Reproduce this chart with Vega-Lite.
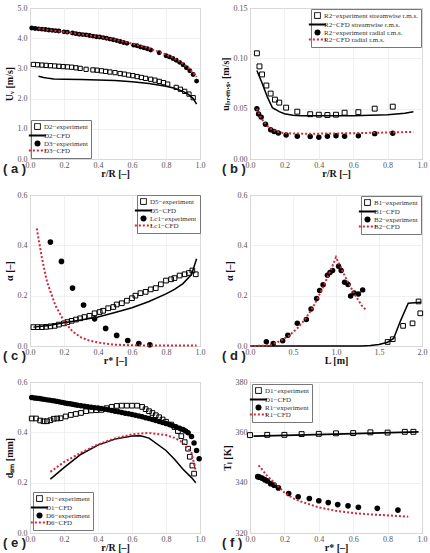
{
  "$schema": "https://vega.github.io/schema/vega-lite/v6.json",
  "background": "white",
  "padding": {"left": 2, "top": 3, "right": 2, "bottom": 0},
  "bounds": "flush",
  "columns": 2,
  "spacing": {"row": 36, "column": 50},
  "config": {
    "font": "Liberation Serif",
    "view": {"stroke": "#8a8a8a", "strokeWidth": 1},
    "axis": {
      "labelFont": "Liberation Serif", "labelFontSize": 8, "labelColor": "#555",
      "titleFont": "Liberation Serif", "titleFontSize": 10, "titleFontWeight": "bold", "titleColor": "#111",
      "domain": false, "ticks": false, "gridColor": "#ececec", "gridWidth": 0.8,
      "labelPadding": 3, "labelFlush": false, "labelOverlap": false
    },
    "axisX": {"labelPadding": 2, "titlePadding": -1},
    "axisY": {"titlePadding": 3},
    "legend": {
      "title": null, "labelFont": "Liberation Serif", "labelFontSize": 7, "labelColor": "#333",
      "strokeColor": "#777", "fillColor": "white", "padding": 3, "rowPadding": -1,
      "symbolSize": 300, "labelLimit": 300, "labelOffset": 3
    },
    "title": {"font": "Liberation Sans", "fontSize": 13, "fontWeight": "bold", "color": "#222", "orient": "bottom", "anchor": "start", "frame": "group", "offset": 0},
    "line": {"strokeWidth": 1.5},
    "point": {"size": 18, "strokeWidth": 1, "opacity": 1},
    "circle": {"size": 24, "opacity": 1}
  },
  "resolve": {"scale": {"color": "independent"}, "legend": {"color": "independent"}},
  "datasets": {
    "a": [
      {"s":"D2−experiment","x":0.02,"y":3.13},{"s":"D2−experiment","x":0.045,"y":3.12},{"s":"D2−experiment","x":0.07,"y":3.11},{"s":"D2−experiment","x":0.095,"y":3.10},{"s":"D2−experiment","x":0.12,"y":3.09},{"s":"D2−experiment","x":0.145,"y":3.08},{"s":"D2−experiment","x":0.17,"y":3.07},{"s":"D2−experiment","x":0.195,"y":3.06},{"s":"D2−experiment","x":0.22,"y":3.05},{"s":"D2−experiment","x":0.245,"y":3.04},{"s":"D2−experiment","x":0.27,"y":3.02},{"s":"D2−experiment","x":0.295,"y":3.00},{"s":"D2−experiment","x":0.33,"y":2.97},{"s":"D2−experiment","x":0.37,"y":2.95},{"s":"D2−experiment","x":0.395,"y":2.94},{"s":"D2−experiment","x":0.42,"y":2.92},{"s":"D2−experiment","x":0.445,"y":2.90},{"s":"D2−experiment","x":0.47,"y":2.88},{"s":"D2−experiment","x":0.5,"y":2.86},{"s":"D2−experiment","x":0.53,"y":2.83},{"s":"D2−experiment","x":0.555,"y":2.81},{"s":"D2−experiment","x":0.58,"y":2.78},{"s":"D2−experiment","x":0.605,"y":2.76},{"s":"D2−experiment","x":0.63,"y":2.73},{"s":"D2−experiment","x":0.655,"y":2.70},{"s":"D2−experiment","x":0.68,"y":2.67},{"s":"D2−experiment","x":0.71,"y":2.64},{"s":"D2−experiment","x":0.735,"y":2.61},{"s":"D2−experiment","x":0.76,"y":2.57},{"s":"D2−experiment","x":0.785,"y":2.53},{"s":"D2−experiment","x":0.81,"y":2.48},{"s":"D2−experiment","x":0.86,"y":2.37},{"s":"D2−experiment","x":0.885,"y":2.31},{"s":"D2−experiment","x":0.91,"y":2.24},{"s":"D2−experiment","x":0.935,"y":2.15},{"s":"D2−experiment","x":0.96,"y":2.03},
      {"s":"D2−CFD","x":0.05,"y":2.74},{"s":"D2−CFD","x":0.08,"y":2.70},{"s":"D2−CFD","x":0.11,"y":2.67},{"s":"D2−CFD","x":0.14,"y":2.65},{"s":"D2−CFD","x":0.2,"y":2.64},{"s":"D2−CFD","x":0.3,"y":2.63},{"s":"D2−CFD","x":0.4,"y":2.62},{"s":"D2−CFD","x":0.5,"y":2.60},{"s":"D2−CFD","x":0.6,"y":2.56},{"s":"D2−CFD","x":0.7,"y":2.50},{"s":"D2−CFD","x":0.8,"y":2.41},{"s":"D2−CFD","x":0.85,"y":2.34},{"s":"D2−CFD","x":0.9,"y":2.24},{"s":"D2−CFD","x":0.93,"y":2.15},{"s":"D2−CFD","x":0.96,"y":2.0},{"s":"D2−CFD","x":0.98,"y":1.82},
      {"s":"D3−experiment","x":0.01,"y":4.34},{"s":"D3−experiment","x":0.03,"y":4.32},{"s":"D3−experiment","x":0.05,"y":4.31},{"s":"D3−experiment","x":0.07,"y":4.30},{"s":"D3−experiment","x":0.09,"y":4.29},{"s":"D3−experiment","x":0.11,"y":4.27},{"s":"D3−experiment","x":0.13,"y":4.26},{"s":"D3−experiment","x":0.15,"y":4.25},{"s":"D3−experiment","x":0.17,"y":4.24},{"s":"D3−experiment","x":0.2,"y":4.21},{"s":"D3−experiment","x":0.22,"y":4.20},{"s":"D3−experiment","x":0.25,"y":4.17},{"s":"D3−experiment","x":0.27,"y":4.15},{"s":"D3−experiment","x":0.29,"y":4.13},{"s":"D3−experiment","x":0.31,"y":4.12},{"s":"D3−experiment","x":0.33,"y":4.11},{"s":"D3−experiment","x":0.35,"y":4.09},{"s":"D3−experiment","x":0.37,"y":4.07},{"s":"D3−experiment","x":0.39,"y":4.05},{"s":"D3−experiment","x":0.41,"y":4.04},{"s":"D3−experiment","x":0.43,"y":4.02},{"s":"D3−experiment","x":0.45,"y":4.00},{"s":"D3−experiment","x":0.47,"y":3.97},{"s":"D3−experiment","x":0.49,"y":3.95},{"s":"D3−experiment","x":0.51,"y":3.92},{"s":"D3−experiment","x":0.53,"y":3.89},{"s":"D3−experiment","x":0.55,"y":3.86},{"s":"D3−experiment","x":0.57,"y":3.83},{"s":"D3−experiment","x":0.61,"y":3.77},{"s":"D3−experiment","x":0.63,"y":3.75},{"s":"D3−experiment","x":0.65,"y":3.71},{"s":"D3−experiment","x":0.67,"y":3.68},{"s":"D3−experiment","x":0.69,"y":3.65},{"s":"D3−experiment","x":0.71,"y":3.61},{"s":"D3−experiment","x":0.76,"y":3.52},{"s":"D3−experiment","x":0.8,"y":3.42},{"s":"D3−experiment","x":0.82,"y":3.38},{"s":"D3−experiment","x":0.84,"y":3.33},{"s":"D3−experiment","x":0.86,"y":3.27},{"s":"D3−experiment","x":0.88,"y":3.20},{"s":"D3−experiment","x":0.9,"y":3.12},{"s":"D3−experiment","x":0.92,"y":3.02},{"s":"D3−experiment","x":0.94,"y":2.92},{"s":"D3−experiment","x":0.96,"y":2.80},{"s":"D3−experiment","x":0.98,"y":2.58},
      {"s":"D3−CFD","x":0.05,"y":4.32},{"s":"D3−CFD","x":0.1,"y":4.28},{"s":"D3−CFD","x":0.2,"y":4.21},{"s":"D3−CFD","x":0.3,"y":4.13},{"s":"D3−CFD","x":0.4,"y":4.05},{"s":"D3−CFD","x":0.5,"y":3.95},{"s":"D3−CFD","x":0.6,"y":3.82},{"s":"D3−CFD","x":0.7,"y":3.66},{"s":"D3−CFD","x":0.8,"y":3.46},{"s":"D3−CFD","x":0.85,"y":3.33},{"s":"D3−CFD","x":0.9,"y":3.16},{"s":"D3−CFD","x":0.93,"y":3.03},{"s":"D3−CFD","x":0.96,"y":2.85},{"s":"D3−CFD","x":0.98,"y":2.72}
    ],
    "b": [
      {"s":"R2−experiment streamwise r.m.s.","x":0.04,"y":0.105},{"s":"R2−experiment streamwise r.m.s.","x":0.055,"y":0.092},{"s":"R2−experiment streamwise r.m.s.","x":0.07,"y":0.084},{"s":"R2−experiment streamwise r.m.s.","x":0.095,"y":0.073},{"s":"R2−experiment streamwise r.m.s.","x":0.12,"y":0.065},{"s":"R2−experiment streamwise r.m.s.","x":0.145,"y":0.059},{"s":"R2−experiment streamwise r.m.s.","x":0.17,"y":0.056},{"s":"R2−experiment streamwise r.m.s.","x":0.21,"y":0.051},{"s":"R2−experiment streamwise r.m.s.","x":0.275,"y":0.047},{"s":"R2−experiment streamwise r.m.s.","x":0.35,"y":0.0445},{"s":"R2−experiment streamwise r.m.s.","x":0.4,"y":0.044},{"s":"R2−experiment streamwise r.m.s.","x":0.45,"y":0.0437},{"s":"R2−experiment streamwise r.m.s.","x":0.5,"y":0.044},{"s":"R2−experiment streamwise r.m.s.","x":0.55,"y":0.046},{"s":"R2−experiment streamwise r.m.s.","x":0.63,"y":0.0465},{"s":"R2−experiment streamwise r.m.s.","x":0.725,"y":0.05},{"s":"R2−experiment streamwise r.m.s.","x":0.83,"y":0.052},
      {"s":"R2−CFD streamwise r.m.s.","x":0.04,"y":0.088},{"s":"R2−CFD streamwise r.m.s.","x":0.07,"y":0.0755},{"s":"R2−CFD streamwise r.m.s.","x":0.1,"y":0.062},{"s":"R2−CFD streamwise r.m.s.","x":0.13,"y":0.051},{"s":"R2−CFD streamwise r.m.s.","x":0.17,"y":0.047},{"s":"R2−CFD streamwise r.m.s.","x":0.2,"y":0.045},{"s":"R2−CFD streamwise r.m.s.","x":0.25,"y":0.0435},{"s":"R2−CFD streamwise r.m.s.","x":0.3,"y":0.043},{"s":"R2−CFD streamwise r.m.s.","x":0.4,"y":0.043},{"s":"R2−CFD streamwise r.m.s.","x":0.5,"y":0.043},{"s":"R2−CFD streamwise r.m.s.","x":0.6,"y":0.043},{"s":"R2−CFD streamwise r.m.s.","x":0.7,"y":0.0435},{"s":"R2−CFD streamwise r.m.s.","x":0.8,"y":0.044},{"s":"R2−CFD streamwise r.m.s.","x":0.9,"y":0.0455},{"s":"R2−CFD streamwise r.m.s.","x":0.95,"y":0.047},
      {"s":"R2−experiment radial r.m.s.","x":0.04,"y":0.05},{"s":"R2−experiment radial r.m.s.","x":0.05,"y":0.0448},{"s":"R2−experiment radial r.m.s.","x":0.065,"y":0.0416},{"s":"R2−experiment radial r.m.s.","x":0.09,"y":0.0346},{"s":"R2−experiment radial r.m.s.","x":0.12,"y":0.029},{"s":"R2−experiment radial r.m.s.","x":0.14,"y":0.0273},{"s":"R2−experiment radial r.m.s.","x":0.165,"y":0.0259},{"s":"R2−experiment radial r.m.s.","x":0.21,"y":0.0238},{"s":"R2−experiment radial r.m.s.","x":0.275,"y":0.0227},{"s":"R2−experiment radial r.m.s.","x":0.35,"y":0.0224},{"s":"R2−experiment radial r.m.s.","x":0.4,"y":0.0217},{"s":"R2−experiment radial r.m.s.","x":0.45,"y":0.0227},{"s":"R2−experiment radial r.m.s.","x":0.5,"y":0.0231},{"s":"R2−experiment radial r.m.s.","x":0.55,"y":0.0227},{"s":"R2−experiment radial r.m.s.","x":0.63,"y":0.0231},{"s":"R2−experiment radial r.m.s.","x":0.725,"y":0.0252},{"s":"R2−experiment radial r.m.s.","x":0.83,"y":0.0256},
      {"s":"R2−CFD radial r.m.s.","x":0.04,"y":0.05},{"s":"R2−CFD radial r.m.s.","x":0.06,"y":0.042},{"s":"R2−CFD radial r.m.s.","x":0.08,"y":0.037},{"s":"R2−CFD radial r.m.s.","x":0.1,"y":0.033},{"s":"R2−CFD radial r.m.s.","x":0.13,"y":0.029},{"s":"R2−CFD radial r.m.s.","x":0.16,"y":0.027},{"s":"R2−CFD radial r.m.s.","x":0.2,"y":0.0256},{"s":"R2−CFD radial r.m.s.","x":0.3,"y":0.0252},{"s":"R2−CFD radial r.m.s.","x":0.4,"y":0.0252},{"s":"R2−CFD radial r.m.s.","x":0.5,"y":0.0254},{"s":"R2−CFD radial r.m.s.","x":0.6,"y":0.0256},{"s":"R2−CFD radial r.m.s.","x":0.7,"y":0.026},{"s":"R2−CFD radial r.m.s.","x":0.8,"y":0.0263},{"s":"R2−CFD radial r.m.s.","x":0.9,"y":0.0267},{"s":"R2−CFD radial r.m.s.","x":0.95,"y":0.027}
    ],
    "c": [
      {"s":"D5−experiment","x":0.02,"y":0.075},{"s":"D5−experiment","x":0.045,"y":0.075},{"s":"D5−experiment","x":0.07,"y":0.075},{"s":"D5−experiment","x":0.095,"y":0.076},{"s":"D5−experiment","x":0.12,"y":0.078},{"s":"D5−experiment","x":0.145,"y":0.08},{"s":"D5−experiment","x":0.17,"y":0.085},{"s":"D5−experiment","x":0.2,"y":0.09},{"s":"D5−experiment","x":0.22,"y":0.095},{"s":"D5−experiment","x":0.245,"y":0.1},{"s":"D5−experiment","x":0.27,"y":0.105},{"s":"D5−experiment","x":0.295,"y":0.11},{"s":"D5−experiment","x":0.32,"y":0.115},{"s":"D5−experiment","x":0.35,"y":0.12},{"s":"D5−experiment","x":0.38,"y":0.13},{"s":"D5−experiment","x":0.41,"y":0.135},{"s":"D5−experiment","x":0.43,"y":0.14},{"s":"D5−experiment","x":0.46,"y":0.15},{"s":"D5−experiment","x":0.49,"y":0.155},{"s":"D5−experiment","x":0.51,"y":0.165},{"s":"D5−experiment","x":0.54,"y":0.17},{"s":"D5−experiment","x":0.57,"y":0.18},{"s":"D5−experiment","x":0.6,"y":0.19},{"s":"D5−experiment","x":0.62,"y":0.2},{"s":"D5−experiment","x":0.65,"y":0.21},{"s":"D5−experiment","x":0.68,"y":0.215},{"s":"D5−experiment","x":0.71,"y":0.225},{"s":"D5−experiment","x":0.74,"y":0.23},{"s":"D5−experiment","x":0.77,"y":0.245},{"s":"D5−experiment","x":0.8,"y":0.26},{"s":"D5−experiment","x":0.83,"y":0.265},{"s":"D5−experiment","x":0.85,"y":0.27},{"s":"D5−experiment","x":0.88,"y":0.28},{"s":"D5−experiment","x":0.91,"y":0.285},{"s":"D5−experiment","x":0.935,"y":0.29},{"s":"D5−experiment","x":0.955,"y":0.3},{"s":"D5−experiment","x":0.975,"y":0.285},
      {"s":"D5−CFD","x":0.02,"y":0.075},{"s":"D5−CFD","x":0.1,"y":0.08},{"s":"D5−CFD","x":0.2,"y":0.092},{"s":"D5−CFD","x":0.3,"y":0.103},{"s":"D5−CFD","x":0.4,"y":0.115},{"s":"D5−CFD","x":0.5,"y":0.133},{"s":"D5−CFD","x":0.6,"y":0.152},{"s":"D5−CFD","x":0.7,"y":0.177},{"s":"D5−CFD","x":0.8,"y":0.207},{"s":"D5−CFD","x":0.85,"y":0.225},{"s":"D5−CFD","x":0.9,"y":0.248},{"s":"D5−CFD","x":0.95,"y":0.284},{"s":"D5−CFD","x":0.98,"y":0.347},
      {"s":"Lc1−experiment","x":0.12,"y":0.413},{"s":"Lc1−experiment","x":0.185,"y":0.336},{"s":"Lc1−experiment","x":0.25,"y":0.23},{"s":"Lc1−experiment","x":0.315,"y":0.163},{"s":"Lc1−experiment","x":0.38,"y":0.108},{"s":"Lc1−experiment","x":0.445,"y":0.07},{"s":"Lc1−experiment","x":0.51,"y":0.042},{"s":"Lc1−experiment","x":0.575,"y":0.022},{"s":"Lc1−experiment","x":0.64,"y":0.01},{"s":"Lc1−experiment","x":0.705,"y":0.005},
      {"s":"Lc1−CFD","x":0.04,"y":0.467},{"s":"Lc1−CFD","x":0.07,"y":0.35},{"s":"Lc1−CFD","x":0.1,"y":0.255},{"s":"Lc1−CFD","x":0.15,"y":0.16},{"s":"Lc1−CFD","x":0.2,"y":0.099},{"s":"Lc1−CFD","x":0.25,"y":0.058},{"s":"Lc1−CFD","x":0.3,"y":0.034},{"s":"Lc1−CFD","x":0.35,"y":0.021},{"s":"Lc1−CFD","x":0.4,"y":0.014},{"s":"Lc1−CFD","x":0.5,"y":0.005},{"s":"Lc1−CFD","x":0.6,"y":0.003},{"s":"Lc1−CFD","x":0.7,"y":0.002},{"s":"Lc1−CFD","x":0.8,"y":0.002},{"s":"Lc1−CFD","x":0.98,"y":0.002}
    ],
    "d": [
      {"s":"B1−experiment","x":1.6,"y":0.016},{"s":"B1−experiment","x":1.66,"y":0.027},{"s":"B1−experiment","x":1.78,"y":0.08},{"s":"B1−experiment","x":1.89,"y":0.09},{"s":"B1−experiment","x":1.96,"y":0.177},{"s":"B1−experiment","x":1.98,"y":0.13},
      {"s":"B1−CFD","x":0,"y":0},{"s":"B1−CFD","x":1.3,"y":0},{"s":"B1−CFD","x":1.4,"y":0.002},{"s":"B1−CFD","x":1.5,"y":0.006},{"s":"B1−CFD","x":1.6,"y":0.015},{"s":"B1−CFD","x":1.67,"y":0.03},{"s":"B1−CFD","x":1.75,"y":0.1},{"s":"B1−CFD","x":1.84,"y":0.17},{"s":"B1−CFD","x":1.99,"y":0.174},
      {"s":"B2−experiment","x":0.19,"y":0.017},{"s":"B2−experiment","x":0.27,"y":0.01},{"s":"B2−experiment","x":0.38,"y":0.021},{"s":"B2−experiment","x":0.44,"y":0.043},{"s":"B2−experiment","x":0.55,"y":0.09},{"s":"B2−experiment","x":0.655,"y":0.105},{"s":"B2−experiment","x":0.71,"y":0.147},{"s":"B2−experiment","x":0.775,"y":0.189},{"s":"B2−experiment","x":0.81,"y":0.221},{"s":"B2−experiment","x":0.85,"y":0.243},{"s":"B2−experiment","x":0.9,"y":0.281},{"s":"B2−experiment","x":0.93,"y":0.292},{"s":"B2−experiment","x":0.96,"y":0.3},{"s":"B2−experiment","x":1.03,"y":0.317},{"s":"B2−experiment","x":1.06,"y":0.3},{"s":"B2−experiment","x":1.1,"y":0.253},{"s":"B2−experiment","x":1.14,"y":0.244},{"s":"B2−experiment","x":1.17,"y":0.199},{"s":"B2−experiment","x":1.21,"y":0.211},{"s":"B2−experiment","x":1.26,"y":0.207},{"s":"B2−experiment","x":1.31,"y":0.223},
      {"s":"B2−CFD","x":0,"y":0},{"s":"B2−CFD","x":0.15,"y":0.001},{"s":"B2−CFD","x":0.25,"y":0.005},{"s":"B2−CFD","x":0.35,"y":0.02},{"s":"B2−CFD","x":0.45,"y":0.04},{"s":"B2−CFD","x":0.55,"y":0.07},{"s":"B2−CFD","x":0.65,"y":0.11},{"s":"B2−CFD","x":0.75,"y":0.165},{"s":"B2−CFD","x":0.85,"y":0.235},{"s":"B2−CFD","x":0.95,"y":0.31},{"s":"B2−CFD","x":1.0,"y":0.353},{"s":"B2−CFD","x":1.1,"y":0.28},{"s":"B2−CFD","x":1.2,"y":0.215},{"s":"B2−CFD","x":1.3,"y":0.16},{"s":"B2−CFD","x":1.35,"y":0.143}
    ],
    "e": [
      {"s":"D1−experiment","x":0.01,"y":0.455},{"s":"D1−experiment","x":0.035,"y":0.455},{"s":"D1−experiment","x":0.06,"y":0.447},{"s":"D1−experiment","x":0.08,"y":0.444},{"s":"D1−experiment","x":0.1,"y":0.444},{"s":"D1−experiment","x":0.12,"y":0.448},{"s":"D1−experiment","x":0.14,"y":0.454},{"s":"D1−experiment","x":0.16,"y":0.455},{"s":"D1−experiment","x":0.18,"y":0.456},{"s":"D1−experiment","x":0.21,"y":0.463},{"s":"D1−experiment","x":0.24,"y":0.469},{"s":"D1−experiment","x":0.27,"y":0.473},{"s":"D1−experiment","x":0.3,"y":0.477},{"s":"D1−experiment","x":0.33,"y":0.484},{"s":"D1−experiment","x":0.36,"y":0.487},{"s":"D1−experiment","x":0.39,"y":0.488},{"s":"D1−experiment","x":0.42,"y":0.489},{"s":"D1−experiment","x":0.45,"y":0.496},{"s":"D1−experiment","x":0.48,"y":0.501},{"s":"D1−experiment","x":0.51,"y":0.505},{"s":"D1−experiment","x":0.54,"y":0.506},{"s":"D1−experiment","x":0.57,"y":0.506},{"s":"D1−experiment","x":0.6,"y":0.506},{"s":"D1−experiment","x":0.63,"y":0.506},{"s":"D1−experiment","x":0.66,"y":0.501},{"s":"D1−experiment","x":0.68,"y":0.492},{"s":"D1−experiment","x":0.7,"y":0.484},{"s":"D1−experiment","x":0.72,"y":0.477},{"s":"D1−experiment","x":0.74,"y":0.468},{"s":"D1−experiment","x":0.76,"y":0.46},{"s":"D1−experiment","x":0.78,"y":0.451},{"s":"D1−experiment","x":0.8,"y":0.442},{"s":"D1−experiment","x":0.83,"y":0.431},{"s":"D1−experiment","x":0.85,"y":0.421},{"s":"D1−experiment","x":0.87,"y":0.405},{"s":"D1−experiment","x":0.89,"y":0.385},{"s":"D1−experiment","x":0.91,"y":0.361},{"s":"D1−experiment","x":0.93,"y":0.335},{"s":"D1−experiment","x":0.94,"y":0.303},{"s":"D1−experiment","x":0.955,"y":0.268},{"s":"D1−experiment","x":0.965,"y":0.236},
      {"s":"D1−CFD","x":0.12,"y":0.214},{"s":"D1−CFD","x":0.2,"y":0.26},{"s":"D1−CFD","x":0.3,"y":0.313},{"s":"D1−CFD","x":0.4,"y":0.349},{"s":"D1−CFD","x":0.5,"y":0.373},{"s":"D1−CFD","x":0.6,"y":0.385},{"s":"D1−CFD","x":0.65,"y":0.386},{"s":"D1−CFD","x":0.7,"y":0.377},{"s":"D1−CFD","x":0.8,"y":0.328},{"s":"D1−CFD","x":0.85,"y":0.293},{"s":"D1−CFD","x":0.9,"y":0.253},{"s":"D1−CFD","x":0.95,"y":0.22},{"s":"D1−CFD","x":0.975,"y":0.2},
      {"s":"D6−experiment","x":0.01,"y":0.538},{"s":"D6−experiment","x":0.025,"y":0.536},{"s":"D6−experiment","x":0.04,"y":0.535},{"s":"D6−experiment","x":0.055,"y":0.534},{"s":"D6−experiment","x":0.07,"y":0.532},{"s":"D6−experiment","x":0.085,"y":0.531},{"s":"D6−experiment","x":0.1,"y":0.529},{"s":"D6−experiment","x":0.115,"y":0.528},{"s":"D6−experiment","x":0.13,"y":0.526},{"s":"D6−experiment","x":0.145,"y":0.525},{"s":"D6−experiment","x":0.16,"y":0.523},{"s":"D6−experiment","x":0.175,"y":0.521},{"s":"D6−experiment","x":0.19,"y":0.519},{"s":"D6−experiment","x":0.205,"y":0.517},{"s":"D6−experiment","x":0.22,"y":0.515},{"s":"D6−experiment","x":0.235,"y":0.514},{"s":"D6−experiment","x":0.25,"y":0.512},{"s":"D6−experiment","x":0.265,"y":0.51},{"s":"D6−experiment","x":0.28,"y":0.508},{"s":"D6−experiment","x":0.3,"y":0.506},{"s":"D6−experiment","x":0.32,"y":0.504},{"s":"D6−experiment","x":0.34,"y":0.502},{"s":"D6−experiment","x":0.36,"y":0.5},{"s":"D6−experiment","x":0.38,"y":0.498},{"s":"D6−experiment","x":0.4,"y":0.497},{"s":"D6−experiment","x":0.42,"y":0.495},{"s":"D6−experiment","x":0.44,"y":0.492},{"s":"D6−experiment","x":0.46,"y":0.49},{"s":"D6−experiment","x":0.48,"y":0.487},{"s":"D6−experiment","x":0.5,"y":0.484},{"s":"D6−experiment","x":0.52,"y":0.482},{"s":"D6−experiment","x":0.54,"y":0.479},{"s":"D6−experiment","x":0.56,"y":0.476},{"s":"D6−experiment","x":0.58,"y":0.474},{"s":"D6−experiment","x":0.6,"y":0.471},{"s":"D6−experiment","x":0.62,"y":0.468},{"s":"D6−experiment","x":0.64,"y":0.465},{"s":"D6−experiment","x":0.66,"y":0.462},{"s":"D6−experiment","x":0.68,"y":0.458},{"s":"D6−experiment","x":0.7,"y":0.455},{"s":"D6−experiment","x":0.72,"y":0.451},{"s":"D6−experiment","x":0.74,"y":0.447},{"s":"D6−experiment","x":0.76,"y":0.443},{"s":"D6−experiment","x":0.78,"y":0.439},{"s":"D6−experiment","x":0.8,"y":0.435},{"s":"D6−experiment","x":0.82,"y":0.431},{"s":"D6−experiment","x":0.84,"y":0.426},{"s":"D6−experiment","x":0.86,"y":0.421},{"s":"D6−experiment","x":0.88,"y":0.416},{"s":"D6−experiment","x":0.9,"y":0.411},{"s":"D6−experiment","x":0.915,"y":0.405},{"s":"D6−experiment","x":0.93,"y":0.398},{"s":"D6−experiment","x":0.95,"y":0.383},{"s":"D6−experiment","x":0.965,"y":0.358},{"s":"D6−experiment","x":0.98,"y":0.328},{"s":"D6−experiment","x":0.995,"y":0.295},
      {"s":"D6−CFD","x":0.12,"y":0.243},{"s":"D6−CFD","x":0.2,"y":0.282},{"s":"D6−CFD","x":0.3,"y":0.319},{"s":"D6−CFD","x":0.4,"y":0.352},{"s":"D6−CFD","x":0.5,"y":0.376},{"s":"D6−CFD","x":0.6,"y":0.392},{"s":"D6−CFD","x":0.7,"y":0.398},{"s":"D6−CFD","x":0.8,"y":0.389},{"s":"D6−CFD","x":0.85,"y":0.378},{"s":"D6−CFD","x":0.9,"y":0.359},{"s":"D6−CFD","x":0.95,"y":0.319},{"s":"D6−CFD","x":0.975,"y":0.247}
    ],
    "f": [
      {"s":"D1−experiment","x":0.0,"y":358.9},{"s":"D1−experiment","x":0.1,"y":359.0},{"s":"D1−experiment","x":0.2,"y":359.0},{"s":"D1−experiment","x":0.3,"y":359.3},{"s":"D1−experiment","x":0.4,"y":359.4},{"s":"D1−experiment","x":0.5,"y":359.6},{"s":"D1−experiment","x":0.6,"y":359.7},{"s":"D1−experiment","x":0.7,"y":360.0},{"s":"D1−experiment","x":0.8,"y":359.9},{"s":"D1−experiment","x":0.9,"y":360.2},{"s":"D1−experiment","x":0.95,"y":360.2},
      {"s":"D1−CFD","x":0.02,"y":358.5},{"s":"D1−CFD","x":0.5,"y":359.3},{"s":"D1−CFD","x":0.98,"y":360.2},
      {"s":"R1−experiment","x":0.045,"y":342.4},{"s":"R1−experiment","x":0.055,"y":342.2},{"s":"R1−experiment","x":0.07,"y":341.8},{"s":"R1−experiment","x":0.085,"y":341.2},{"s":"R1−experiment","x":0.1,"y":340.7},{"s":"R1−experiment","x":0.12,"y":339.6},{"s":"R1−experiment","x":0.14,"y":339.0},{"s":"R1−experiment","x":0.165,"y":337.9},{"s":"R1−experiment","x":0.225,"y":335.7},{"s":"R1−experiment","x":0.28,"y":334.4},{"s":"R1−experiment","x":0.345,"y":333.7},{"s":"R1−experiment","x":0.4,"y":332.8},{"s":"R1−experiment","x":0.455,"y":332.1},{"s":"R1−experiment","x":0.51,"y":331.3},{"s":"R1−experiment","x":0.57,"y":330.8},{"s":"R1−experiment","x":0.63,"y":330.2},{"s":"R1−experiment","x":0.74,"y":329.8},{"s":"R1−experiment","x":0.86,"y":329.1},
      {"s":"R1−CFD","x":0.05,"y":346.9},{"s":"R1−CFD","x":0.1,"y":342.7},{"s":"R1−CFD","x":0.15,"y":339.4},{"s":"R1−CFD","x":0.2,"y":336.1},{"s":"R1−CFD","x":0.25,"y":333.8},{"s":"R1−CFD","x":0.3,"y":332.4},{"s":"R1−CFD","x":0.4,"y":330.2},{"s":"R1−CFD","x":0.5,"y":328.8},{"s":"R1−CFD","x":0.6,"y":327.9},{"s":"R1−CFD","x":0.7,"y":327.4},{"s":"R1−CFD","x":0.8,"y":327.0},{"s":"R1−CFD","x":0.92,"y":326.5}
    ]
  },
  "concat": [
    {
      "width": 170, "height": 151, "data": {"name": "a"},
      "title": {"text": "( a )", "dx": -27, "dy": -19},
      "encoding": {
        "x": {"field": "x", "type": "quantitative", "scale": {"domain": [0, 1], "nice": false}, "axis": {"title": "r/R [–]", "values": [0, 0.2, 0.4, 0.6, 0.8, 1], "format": ".1f"}},
        "y": {"field": "y", "type": "quantitative", "scale": {"domain": [0, 5], "nice": false}, "axis": {"title": "Uᵥ [m/s]", "values": [0, 1, 2, 3, 4, 5], "format": ".1f"}},
        "color": {"field": "s", "type": "nominal", "scale": {"domain": ["D2−experiment", "D2−CFD", "D3−experiment", "D3−CFD"], "range": ["#000", "#000", "#000", "#d0283c"]},
          "legend": {"orient": "bottom-left", "offset": 1, "encode": {"symbols": {"update": {
            "shape": {"signal": "datum.index==0?'square':datum.index==2?'circle':'stroke'"},
            "fill": {"signal": "datum.index==2?'#000':'#fff'"},
            "fillOpacity": {"signal": "datum.index==2?1:0"},
            "stroke": {"signal": "datum.index==3?'#d0283c':'#000'"},
            "strokeDash": {"signal": "datum.index==3?[2,2]:[1,0]"},
            "strokeWidth": {"signal": "datum.index==0?1:datum.index==2?0:1.8"},
            "size": {"signal": "datum.index==0?34:datum.index==2?36:300"}}}}}}
      },
      "layer": [
        {"transform": [{"filter": "datum.s == 'D2−experiment'"}], "mark": {"type": "point", "shape": "square", "filled": false}},
        {"transform": [{"filter": "datum.s == 'D2−CFD'"}], "mark": {"type": "line"}},
        {"transform": [{"filter": "datum.s == 'D3−experiment'"}], "mark": {"type": "circle"}},
        {"transform": [{"filter": "datum.s == 'D3−CFD'"}], "mark": {"type": "line", "strokeWidth": 2, "strokeDash": [2, 2]}}
      ]
    },
    {
      "width": 172, "height": 151, "data": {"name": "b"},
      "title": {"text": "( b )", "dx": -28, "dy": -19},
      "encoding": {
        "x": {"field": "x", "type": "quantitative", "scale": {"domain": [0, 1], "nice": false}, "axis": {"title": "r/R [–]", "values": [0, 0.2, 0.4, 0.6, 0.8, 1], "format": ".1f"}},
        "y": {"field": "y", "type": "quantitative", "scale": {"domain": [0, 0.15], "nice": false}, "axis": {"title": "uₗ,ᵣ.ₘ.ₛ. [m/s]", "values": [0, 0.05, 0.1, 0.15], "format": ".2f"}},
        "color": {"field": "s", "type": "nominal", "scale": {"domain": ["R2−experiment streamwise r.m.s.", "R2−CFD streamwise r.m.s.", "R2−experiment radial r.m.s.", "R2−CFD radial r.m.s."], "range": ["#000", "#000", "#000", "#d0283c"]},
          "legend": {"orient": "top-right", "offset": 1, "encode": {"symbols": {"update": {
            "shape": {"signal": "datum.index==0?'square':datum.index==2?'circle':'stroke'"},
            "fill": {"signal": "datum.index==2?'#000':'#fff'"},
            "fillOpacity": {"signal": "datum.index==2?1:0"},
            "stroke": {"signal": "datum.index==3?'#d0283c':'#000'"},
            "strokeDash": {"signal": "datum.index==3?[2,2]:[1,0]"},
            "strokeWidth": {"signal": "datum.index==0?1:datum.index==2?0:1.8"},
            "size": {"signal": "datum.index==0?34:datum.index==2?36:300"}}}}}}
      },
      "layer": [
        {"transform": [{"filter": "datum.s == 'R2−experiment streamwise r.m.s.'"}], "mark": {"type": "point", "shape": "square", "filled": false, "size": 24}},
        {"transform": [{"filter": "datum.s == 'R2−CFD streamwise r.m.s.'"}], "mark": {"type": "line"}},
        {"transform": [{"filter": "datum.s == 'R2−experiment radial r.m.s.'"}], "mark": {"type": "circle", "size": 30}},
        {"transform": [{"filter": "datum.s == 'R2−CFD radial r.m.s.'"}], "mark": {"type": "line", "strokeWidth": 2, "strokeDash": [2, 2]}}
      ]
    },
    {
      "width": 170, "height": 151, "data": {"name": "c"},
      "title": {"text": "( c )", "dx": -27, "dy": -19},
      "encoding": {
        "x": {"field": "x", "type": "quantitative", "scale": {"domain": [0, 1], "nice": false}, "axis": {"title": "r* [–]", "values": [0, 0.2, 0.4, 0.6, 0.8, 1], "format": ".1f"}},
        "y": {"field": "y", "type": "quantitative", "scale": {"domain": [0, 0.6], "nice": false}, "axis": {"title": "α [–]", "values": [0, 0.2, 0.4, 0.6], "format": ".1f"}},
        "color": {"field": "s", "type": "nominal", "scale": {"domain": ["D5−experiment", "D5−CFD", "Lc1−experiment", "Lc1−CFD"], "range": ["#000", "#000", "#000", "#d0283c"]},
          "legend": {"orient": "top-right", "offset": 0, "encode": {"symbols": {"update": {
            "shape": {"signal": "datum.index==0?'square':datum.index==2?'circle':'stroke'"},
            "fill": {"signal": "datum.index==2?'#000':'#fff'"},
            "fillOpacity": {"signal": "datum.index==2?1:0"},
            "stroke": {"signal": "datum.index==3?'#d0283c':'#000'"},
            "strokeDash": {"signal": "datum.index==3?[2,2]:[1,0]"},
            "strokeWidth": {"signal": "datum.index==0?1:datum.index==2?0:1.8"},
            "size": {"signal": "datum.index==0?34:datum.index==2?36:300"}}}}}}
      },
      "layer": [
        {"transform": [{"filter": "datum.s == 'D5−experiment'"}], "mark": {"type": "point", "shape": "square", "filled": false, "size": 22}},
        {"transform": [{"filter": "datum.s == 'D5−CFD'"}], "mark": {"type": "line"}},
        {"transform": [{"filter": "datum.s == 'Lc1−experiment'"}], "mark": {"type": "circle", "size": 32}},
        {"transform": [{"filter": "datum.s == 'Lc1−CFD'"}], "mark": {"type": "line", "strokeWidth": 2, "strokeDash": [2, 2]}}
      ]
    },
    {
      "width": 172, "height": 151, "data": {"name": "d"},
      "title": {"text": "( d )", "dx": -28, "dy": -19},
      "encoding": {
        "x": {"field": "x", "type": "quantitative", "scale": {"domain": [0, 2], "nice": false}, "axis": {"title": "L [m]", "values": [0, 0.5, 1, 1.5, 2], "format": ".1f"}},
        "y": {"field": "y", "type": "quantitative", "scale": {"domain": [0, 0.6], "nice": false}, "axis": {"title": "α [–]", "values": [0, 0.2, 0.4, 0.6], "format": ".1f"}},
        "color": {"field": "s", "type": "nominal", "scale": {"domain": ["B1−experiment", "B1−CFD", "B2−experiment", "B2−CFD"], "range": ["#000", "#000", "#000", "#d0283c"]},
          "legend": {"orient": "top-right", "offset": 1, "encode": {"symbols": {"update": {
            "shape": {"signal": "datum.index==0?'square':datum.index==2?'circle':'stroke'"},
            "fill": {"signal": "datum.index==2?'#000':'#fff'"},
            "fillOpacity": {"signal": "datum.index==2?1:0"},
            "stroke": {"signal": "datum.index==3?'#d0283c':'#000'"},
            "strokeDash": {"signal": "datum.index==3?[2,2]:[1,0]"},
            "strokeWidth": {"signal": "datum.index==0?1:datum.index==2?0:1.8"},
            "size": {"signal": "datum.index==0?34:datum.index==2?36:300"}}}}}}
      },
      "layer": [
        {"transform": [{"filter": "datum.s == 'B1−experiment'"}], "mark": {"type": "point", "shape": "square", "filled": false, "size": 22}},
        {"transform": [{"filter": "datum.s == 'B1−CFD'"}], "mark": {"type": "line"}},
        {"transform": [{"filter": "datum.s == 'B2−experiment'"}], "mark": {"type": "circle", "size": 30}},
        {"transform": [{"filter": "datum.s == 'B2−CFD'"}], "mark": {"type": "line", "strokeWidth": 2, "strokeDash": [2, 2]}}
      ]
    },
    {
      "width": 170, "height": 151, "data": {"name": "e"},
      "title": {"text": "( e )", "dx": -27, "dy": -19},
      "encoding": {
        "x": {"field": "x", "type": "quantitative", "scale": {"domain": [0, 1], "nice": false}, "axis": {"title": "r/R [–]", "values": [0, 0.2, 0.4, 0.6, 0.8, 1], "format": ".1f"}},
        "y": {"field": "y", "type": "quantitative", "scale": {"domain": [0, 0.6], "nice": false}, "axis": {"title": "dₛₘ [mm]", "values": [0, 0.2, 0.4, 0.6], "format": ".1f"}},
        "color": {"field": "s", "type": "nominal", "scale": {"domain": ["D1−experiment", "D1−CFD", "D6−experiment", "D6−CFD"], "range": ["#000", "#000", "#000", "#d0283c"]},
          "legend": {"orient": "bottom-left", "offset": 3, "encode": {"symbols": {"update": {
            "shape": {"signal": "datum.index==0?'square':datum.index==2?'circle':'stroke'"},
            "fill": {"signal": "datum.index==2?'#000':'#fff'"},
            "fillOpacity": {"signal": "datum.index==2?1:0"},
            "stroke": {"signal": "datum.index==3?'#d0283c':'#000'"},
            "strokeDash": {"signal": "datum.index==3?[2,2]:[1,0]"},
            "strokeWidth": {"signal": "datum.index==0?1:datum.index==2?0:1.8"},
            "size": {"signal": "datum.index==0?34:datum.index==2?36:300"}}}}}}
      },
      "layer": [
        {"transform": [{"filter": "datum.s == 'D1−experiment'"}], "mark": {"type": "point", "shape": "square", "filled": false, "size": 22}},
        {"transform": [{"filter": "datum.s == 'D1−CFD'"}], "mark": {"type": "line"}},
        {"transform": [{"filter": "datum.s == 'D6−experiment'"}], "mark": {"type": "circle", "size": 30}},
        {"transform": [{"filter": "datum.s == 'D6−CFD'"}], "mark": {"type": "line", "strokeWidth": 2, "strokeDash": [2, 2]}}
      ]
    },
    {
      "width": 172, "height": 151, "data": {"name": "f"},
      "title": {"text": "( f )", "dx": -28, "dy": -19},
      "encoding": {
        "x": {"field": "x", "type": "quantitative", "scale": {"domain": [0, 1], "nice": false}, "axis": {"title": "r* [–]", "values": [0, 0.2, 0.4, 0.6, 0.8, 1], "format": ".1f"}},
        "y": {"field": "y", "type": "quantitative", "scale": {"domain": [320, 380], "nice": false, "zero": false}, "axis": {"title": "Tₗ [K]", "values": [320, 340, 360, 380], "format": "d"}},
        "color": {"field": "s", "type": "nominal", "scale": {"domain": ["D1−experiment", "D1−CFD", "R1−experiment", "R1−CFD"], "range": ["#000", "#000", "#000", "#d0283c"]},
          "legend": {"orient": "top-left", "offset": 2, "encode": {"symbols": {"update": {
            "shape": {"signal": "datum.index==0?'square':datum.index==2?'circle':'stroke'"},
            "fill": {"signal": "datum.index==2?'#000':'#fff'"},
            "fillOpacity": {"signal": "datum.index==2?1:0"},
            "stroke": {"signal": "datum.index==3?'#d0283c':'#000'"},
            "strokeDash": {"signal": "datum.index==3?[2,2]:[1,0]"},
            "strokeWidth": {"signal": "datum.index==0?1:datum.index==2?0:1.8"},
            "size": {"signal": "datum.index==0?34:datum.index==2?36:300"}}}}}}
      },
      "layer": [
        {"transform": [{"filter": "datum.s == 'D1−experiment'"}], "mark": {"type": "point", "shape": "square", "filled": false, "size": 24}},
        {"transform": [{"filter": "datum.s == 'D1−CFD'"}], "mark": {"type": "line", "strokeWidth": 1.8}},
        {"transform": [{"filter": "datum.s == 'R1−experiment'"}], "mark": {"type": "circle", "size": 32}},
        {"transform": [{"filter": "datum.s == 'R1−CFD'"}], "mark": {"type": "line", "strokeWidth": 2, "strokeDash": [2, 2]}}
      ]
    }
  ]
}
